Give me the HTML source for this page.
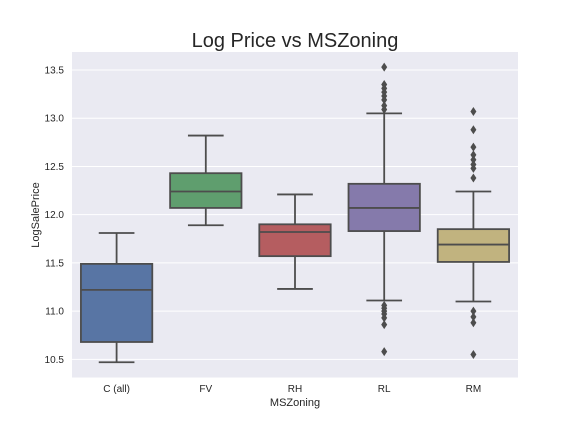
<!DOCTYPE html>
<html><head><meta charset="utf-8"><style>
body{margin:0;background:#fff;}
svg text{font-family:"Liberation Sans",Arial,sans-serif;}
</style></head><body>
<svg id="chart" width="576" height="432" xmlns="http://www.w3.org/2000/svg">
<rect x="72" y="52" width="446" height="325.5" fill="#eaeaf2"/>
<g id="grid"></g>
<g id="boxes"></g>
<text x="295" y="47" text-anchor="middle" font-size="20" fill="#262626">Log Price vs MSZoning</text>
<text x="295" y="406" text-anchor="middle" font-size="11" fill="#262626">MSZoning</text>
<text transform="translate(39,215) rotate(-90)" text-anchor="middle" font-size="11" fill="#262626">LogSalePrice</text>
</svg>
<script>
const categories=["C (all)","FV","RH","RL","RM"];
const whiskLow=[10.47,11.89,11.23,11.11,11.10];
const q1=[10.68,12.07,11.57,11.83,11.51];
const medians=[11.22,12.24,11.82,12.07,11.69];
const q3=[11.49,12.43,11.90,12.32,11.85];
const whiskHigh=[11.81,12.82,12.21,13.05,12.24];
const outliersRL=[13.53,13.35,13.31,13.27,13.23,13.19,13.13,13.09,11.06,11.03,11.00,10.97,10.93,10.86,10.58];
const outliersRM=[13.07,12.88,12.70,12.62,12.57,12.52,12.48,12.38,11.00,10.94,10.88,10.55];
const yTicks=[10.5,11.0,11.5,12.0,12.5,13.0,13.5];
const colors=["#5875a4","#5f9e6e","#b55d60","#857aab","#c1b37f"];
const NS="http://www.w3.org/2000/svg";
const L=72,R=518,T=52,B=377.5;
function y(v){return 70+(13.5-v)*96.45;}
const bw=(R-L)/categories.length;
function x(i){return L+bw*(i+0.5);}
function mk(tag,attrs,parent){const e=document.createElementNS(NS,tag);for(const k in attrs)e.setAttribute(k,attrs[k]);parent.appendChild(e);return e;}
const grid=document.getElementById('grid');
const svg=document.getElementById('chart');
yTicks.forEach(t=>{
 const l=mk('line',{x1:L,x2:R,y1:y(t),y2:y(t),stroke:'#fff','stroke-width':1},grid);
 
 
 const tx=mk('text',{x:64,y:y(t)+3.5,'text-anchor':'end','font-size':10,fill:'#262626'},svg);
 tx.textContent=t.toFixed(1);
 
 
});
const g=document.getElementById('boxes');
const lc='#4d4d4d',lw=1.8;
categories.forEach((c,i)=>{
 const cx=x(i),w=bw*0.8;
 const grp=mk('g',{},g);
 
 
 mk('line',{x1:cx,x2:cx,y1:y(whiskLow[i]),y2:y(q1[i]),stroke:lc,'stroke-width':lw},grp);
 mk('line',{x1:cx,x2:cx,y1:y(q3[i]),y2:y(whiskHigh[i]),stroke:lc,'stroke-width':lw},grp);
 mk('line',{x1:cx-w/4,x2:cx+w/4,y1:y(whiskLow[i]),y2:y(whiskLow[i]),stroke:lc,'stroke-width':lw},grp);
 mk('line',{x1:cx-w/4,x2:cx+w/4,y1:y(whiskHigh[i]),y2:y(whiskHigh[i]),stroke:lc,'stroke-width':lw},grp);
 mk('rect',{x:cx-w/2,y:y(q3[i]),width:w,height:y(q1[i])-y(q3[i]),fill:colors[i],stroke:lc,'stroke-width':lw},grp);
 mk('line',{x1:cx-w/2,x2:cx+w/2,y1:y(medians[i]),y2:y(medians[i]),stroke:lc,'stroke-width':lw},grp);
 const tx=mk('text',{x:cx,y:392,'text-anchor':'middle','font-size':10,fill:'#262626'},svg);
 tx.textContent=c;
 
 
});
function drawOut(arr,i){
 arr.forEach(v=>{
  const cx=x(i),cy=y(v);
  const p=mk('path',{d:`M${cx},${cy-4.5}L${cx+3},${cy}L${cx},${cy+4.5}L${cx-3},${cy}Z`,fill:lc},g);
  
  
 });
}
drawOut(outliersRL,3);
drawOut(outliersRM,4);
</script>
</body></html>
